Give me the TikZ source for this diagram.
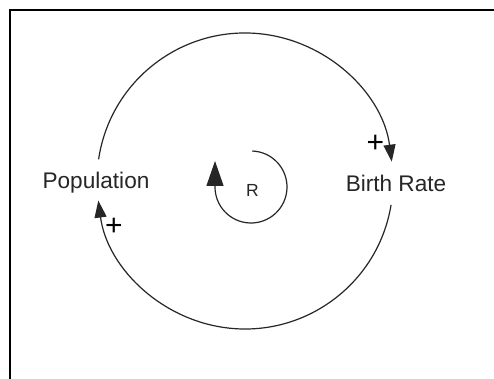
\documentclass[tikz,border=0pt]{standalone}
\usepackage{fontspec}
\setmainfont{Liberation Sans}
\usetikzlibrary{arrows.meta,calc}
\begin{document}
\begin{tikzpicture}[x=1pt,y=1pt,
  link/.style={line width=1.2pt,draw=black!85},
  outtip/.style={-{Triangle[length=17pt,width=12pt]}},
  varlabel/.style={font=\fontsize{22.6}{24}\selectfont,text=black!85,inner sep=0pt},
  signlabel/.style={font=\fontsize{30}{32}\selectfont,inner sep=0pt},
  looplabel/.style={font=\fontsize{17.5}{20}\selectfont,text=black!85,inner sep=0pt}]
\useasboundingbox (0,0) rectangle (494,379);
\fill[white] (0,0) rectangle (494,379);
\draw[line width=2pt] (10,0) -- (10,369) -- (494,369);
% centres
\coordinate (C) at (245,198);
\coordinate (L) at (251,192);
% variables
\node[varlabel] (pop) at (96,196) {Population};
\node[varlabel] (br) at (396,196) {Birth Rate};
% links
\draw[link,outtip] ($(C)+(171.6:148)$) arc[start angle=171.6,end angle=7.5,radius=148];
\draw[link,outtip] ($(C)+(-9.3:148)$) arc[start angle=-9.3,end angle=-172.4,radius=148];
% signs
\node[signlabel] (s1) at (375.5,235) {+};
\node[signlabel] (s2) at (114,152.5) {+};
% loop
\draw[link,-{Triangle[length=25pt,width=17pt]}] ($(L)+(88:36)$) arc[start angle=88,end angle=-180,radius=36] -- ++(0,26);
\node[looplabel] (R) at (252.5,189) {R};
\end{tikzpicture}
\end{document}
